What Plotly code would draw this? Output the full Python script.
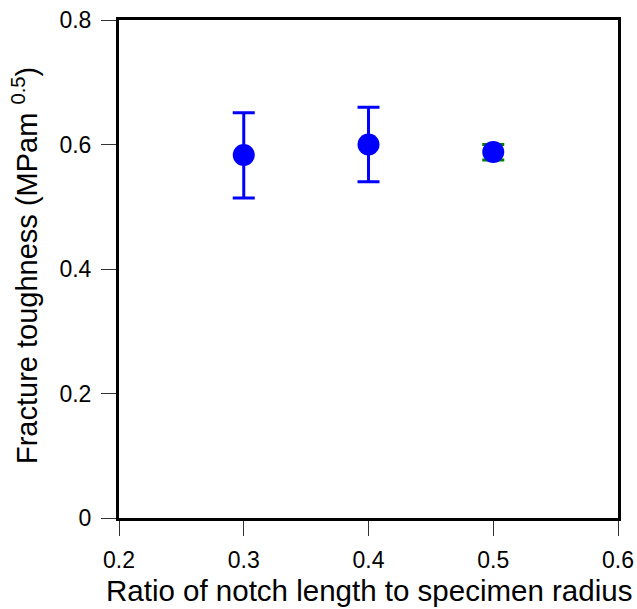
import plotly.graph_objects as go

ratio = [0.3, 0.4, 0.5]
toughness = [0.583, 0.600, 0.588]
err_plus = [0.068, 0.060, 0.012]
err_minus = [0.069, 0.060, 0.013]
bar_colors = ["#0000ff", "#0000ff", "#008000"]
x_ticks = [0.2, 0.3, 0.4, 0.5, 0.6]
y_ticks = [0, 0.2, 0.4, 0.6, 0.8]
x_title = "Ratio of notch length to specimen radius"
y_title = "Fracture toughness (MPam <sup>0.5</sup>)"

fig = go.Figure()
for i in range(len(ratio)):
    fig.add_trace(go.Scatter(
        x=[ratio[i]], y=[toughness[i]], mode="markers",
        marker=dict(color="#0000ff", size=22),
        error_y=dict(type="data", symmetric=False, array=[err_plus[i]], arrayminus=[err_minus[i]],
                     color=bar_colors[i], thickness=3, width=11),
        showlegend=False,
    ))

font = "Liberation Sans, Arial, sans-serif"
axis_common = dict(showline=True, linewidth=3, linecolor="black", mirror=True,
                   ticks="outside", ticklen=15, tickwidth=1, tickcolor="#333",
                   showgrid=False, zeroline=False, automargin=False,
                   tickfont=dict(size=23))
fig.update_layout(
    width=637, height=609,
    margin=dict(l=119, r=19, t=20, b=91),
    plot_bgcolor="white", paper_bgcolor="white",
    font=dict(family=font, color="black", size=22),
    xaxis=dict(range=[0.2, 0.6], tickvals=x_ticks, ticktext=[f"{v:g}" for v in x_ticks],
               ticklabelstandoff=4, **axis_common),
    yaxis=dict(range=[0, 0.8], tickvals=y_ticks, ticktext=[f"{v:g}" for v in y_ticks],
               ticklabelstandoff=5, **axis_common),
    annotations=[
        dict(text=x_title, xref="paper", yref="paper", x=0.5, y=0, xanchor="center",
             yanchor="middle", yshift=-72, showarrow=False, font=dict(size=29.5)),
        dict(text=y_title, xref="paper", yref="paper", x=0, y=0.5, xanchor="center",
             yanchor="middle", xshift=-94, yshift=3, textangle=-90, showarrow=False,
             font=dict(size=29)),
    ],
)
fig.write_html("out.html")
